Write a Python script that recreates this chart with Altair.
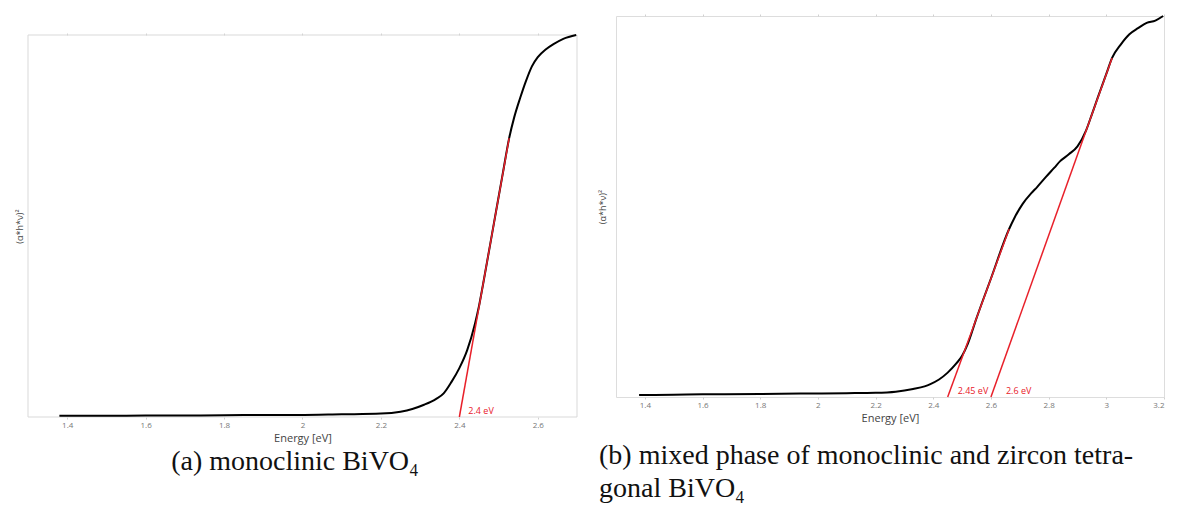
import altair as alt
import pandas as pd

# ---------------- data ----------------
a_energy = [1.38, 1.50, 1.60, 1.74, 1.85, 1.99, 2.10, 2.20, 2.25, 2.28, 2.31, 2.34, 2.36,
            2.38, 2.40, 2.42, 2.44, 2.45, 2.46, 2.49, 2.51, 2.527, 2.54, 2.555, 2.57,
            2.585, 2.60, 2.62, 2.64, 2.665, 2.698]
a_value = [0.003, 0.003, 0.004, 0.004, 0.005, 0.005, 0.007, 0.009, 0.014, 0.021, 0.032,
           0.047, 0.062, 0.092, 0.128, 0.175, 0.245, 0.290, 0.345, 0.518, 0.633, 0.730,
           0.785, 0.835, 0.880, 0.918, 0.942, 0.962, 0.976, 0.990, 1.000]

b_energy = [1.38, 1.50, 1.60, 1.80, 1.94, 2.10, 2.20, 2.27, 2.33, 2.37, 2.39, 2.42, 2.45,
            2.48, 2.50, 2.52, 2.55, 2.60, 2.663, 2.68, 2.71, 2.74, 2.76, 2.79, 2.82, 2.84,
            2.87, 2.90, 2.93, 2.95, 2.97, 3.00, 3.02, 3.05, 3.08, 3.11, 3.14, 3.17, 3.197]
b_value = [0.005, 0.006, 0.007, 0.008, 0.009, 0.010, 0.011, 0.014, 0.021, 0.028, 0.034,
           0.046, 0.064, 0.088, 0.108, 0.140, 0.207, 0.311, 0.441, 0.468, 0.507, 0.535,
           0.551, 0.577, 0.602, 0.619, 0.637, 0.658, 0.700, 0.742, 0.785, 0.848, 0.890,
           0.925, 0.952, 0.968, 0.982, 0.988, 1.000]

a_fit_start = [2.40]
a_fit_end = [2.527]
a_fit_end_value = [0.730]
a_fit_labels = ["2.4 eV"]

b_fit_start = [2.45, 2.60]
b_fit_end = [2.663, 3.02]
b_fit_end_value = [0.441, 0.890]
b_fit_labels = ["2.45 eV", "2.6 eV"]

a_ticks = [1.4, 1.6, 1.8, 2.0, 2.2, 2.4, 2.6]
b_ticks = [1.4, 1.6, 1.8, 2.0, 2.2, 2.4, 2.6, 2.8, 3.0, 3.2]

captions = ["(a) monoclinic BiVO\u2084",
            "(b) mixed phase of monoclinic and zircon tetra-\ngonal BiVO\u2084"]

x_title = "Energy [eV]"
y_title = "(\u03b1*h*\u03bd)\u00b2"

# ---------------- styling ----------------
FONT = "Open Sans"
SERIF = "Liberation Serif"
RED = "#e8202a"
FRAME = "#d9d9d9"


def panel(energy, value, f0, f1, fv, flabels, label_dx, xmax, ticks, w, h,
          ytitlepad, caption, cap_x, cap_y, cap_align, drop=0):
    """drop: extra space (px) above the plot frame inside this panel."""
    curve = pd.DataFrame({"E": energy, "v": value})
    fits = pd.DataFrame({"E": f0, "E2": f1, "v": [0.0] * len(f0), "v2": fv,
                         "label": flabels})
    full_h = h + drop
    xscale = alt.Scale(domain=[1.3, xmax], nice=False, zero=False)
    yscale = alt.Scale(domain=[0, 1], nice=False, zero=False, range=[full_h, drop])
    xaxis = alt.Axis(values=ticks, format="~g", title=x_title, grid=False, domain=False,
                     tickSize=2, tickColor="#d0d0d0", labelFont=FONT, labelFontSize=8,
                     labelColor="#777777", labelPadding=2, titleFont=FONT,
                     titleFontSize=11, titleFontWeight="normal", titleColor="#444444",
                     titlePadding=3)
    topaxis = alt.Axis(orient="top", values=ticks, title=None, grid=False,
                       domain=False, tickSize=2, tickColor="#d0d0d0", labels=False,
                       offset=-drop)
    yaxis = alt.Axis(title=y_title, labels=False, ticks=False, domain=False, grid=False,
                     titleFont=FONT, titleFontSize=9, titleFontWeight="normal",
                     titleColor="#444444", titlePadding=ytitlepad)
    layers = []
    if drop:
        frame = alt.Chart(pd.DataFrame({"f": [0]})).mark_rect(
            fillOpacity=0, stroke=FRAME, strokeWidth=1
        ).encode(x=alt.value(0), x2=alt.value(w), y=alt.value(drop), y2=alt.value(full_h))
        layers.append(frame)
    base_line = alt.Chart(curve).mark_line(
        color="black", strokeWidth=2, interpolate="monotone"
    ).encode(x=alt.X("E:Q", scale=xscale, axis=xaxis),
             y=alt.Y("v:Q", scale=yscale, axis=yaxis))
    rules = alt.Chart(fits).mark_rule(color=RED, strokeWidth=1.5).encode(
        x=alt.X("E:Q", axis=topaxis), x2="E2:Q", y="v:Q", y2="v2:Q")
    layers += [base_line, rules]
    for i, lab in enumerate(flabels):
        one = fits.iloc[[i]]
        layers.append(
            alt.Chart(one).mark_text(
                color=RED, font=FONT, fontSize=9, align="left", baseline="middle",
                dx=label_dx[i], dy=-6
            ).encode(x=alt.X("E:Q", axis=None), y="v:Q", text="label:N")
        )
    cap = alt.Chart(pd.DataFrame({"t": [caption]})).mark_text(
        font=SERIF, fontSize=28, color="#111111", align=cap_align, baseline="middle",
        lineBreak="\n", lineHeight=33
    ).encode(x=alt.value(cap_x), y=alt.value(cap_y), text="t:N")
    layers.append(cap)
    ch = alt.layer(*layers).resolve_axis(x="independent").properties(width=w, height=full_h)
    if drop:
        ch = ch.properties(view=alt.ViewBackground(stroke="transparent"))
    return ch


left = panel(a_energy, a_value, a_fit_start, a_fit_end, a_fit_end_value, a_fit_labels,
             [9], 2.7, a_ticks, 549, 382, 4, captions[0], 267, 446, "center", drop=19)
right = panel(b_energy, b_value, b_fit_start, b_fit_end, b_fit_end_value, b_fit_labels,
              [10, 15], 3.2, b_ticks, 548, 381, 9, captions[1], -17, 440, "left")

chart = alt.hconcat(left, right, spacing=16).properties(
    padding={"left": 14, "top": 11, "right": 0, "bottom": 0}
).configure_view(stroke=FRAME, strokeWidth=1).configure(background="white")

chart.save("out.html", embed_options={"renderer": "svg", "actions": False})
